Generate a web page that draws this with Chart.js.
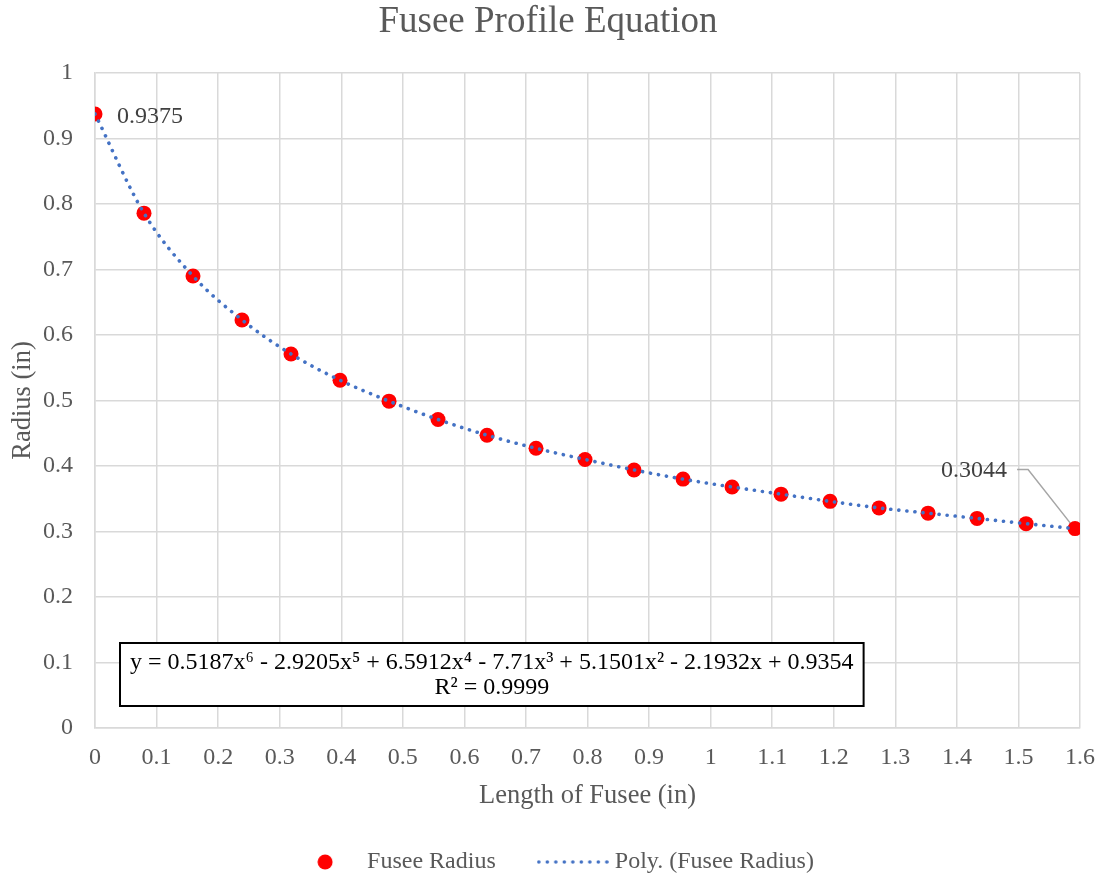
<!DOCTYPE html>
<html>
<head>
<meta charset="utf-8">
<title>Fusee Profile Equation</title>
<script src="https://cdn.jsdelivr.net/npm/chart.js@4.4.0/dist/chart.umd.min.js"></script>
<style>
  html, body { margin: 0; padding: 0; background: #fff; }
  #wrap { width: 1099px; height: 875px; position: relative; }
</style>
</head>
<body>
<div id="wrap"><canvas id="fuseeChart"></canvas></div>
<script>
// values
const lengthIn = [0, 0.0796, 0.1592, 0.2388, 0.3184, 0.398, 0.4776, 0.5572, 0.6368, 0.7164, 0.796,
  0.8756, 0.9552, 1.0348, 1.1144, 1.194, 1.2736, 1.3532, 1.4328, 1.5124, 1.592];
const radiusIn = [0.9375, 0.786, 0.690, 0.623, 0.571, 0.531, 0.499, 0.471, 0.447, 0.427, 0.410,
  0.394, 0.380, 0.368, 0.357, 0.346, 0.336, 0.328, 0.320, 0.312, 0.3044];
const xTickValues = [0, 0.1, 0.2, 0.3, 0.4, 0.5, 0.6, 0.7, 0.8, 0.9, 1, 1.1, 1.2, 1.3, 1.4, 1.5, 1.6];
const yTickValues = [0, 0.1, 0.2, 0.3, 0.4, 0.5, 0.6, 0.7, 0.8, 0.9, 1];
const labelledIdx = [0, 20];
const trendText = ['y = 0.5187x\u2076 - 2.9205x\u2075 + 6.5912x\u2074 - 7.71x\u00b3 + 5.1501x\u00b2 - 2.1932x + 0.9354', 'R\u00b2 = 0.9999'];

const serif = '"Liberation Serif", "Times New Roman", serif';
const points = lengthIn.map((x, i) => ({x: x, y: radiusIn[i]}));

// legend markers
function makeMarker(kind) {
  const c = document.createElement('canvas');
  const g = c.getContext('2d');
  if (kind == 'dot') {
    c.width = 16; c.height = 16;
    g.fillStyle = '#ff0000';
    g.beginPath(); g.arc(8, 8, 7.5, 0, Math.PI * 2); g.fill();
  } else {
    c.width = 72; c.height = 6;
    g.fillStyle = '#4472c4';
    for (let k = 0; k < 9; k++) {
      g.beginPath(); g.arc(2 + k * 8.5, 3, 1.8, 0, Math.PI * 2); g.fill();
    }
  }
  return c;
}
const markers = [makeMarker('dot'), makeMarker('line')];

const extras = {
  id: 'extras',
  afterLayout(chart) {
    // legend sits a little right of centre in the original, title is centred on the page
    chart.legend.left += 14.5;
    chart.legend.right += 14.5;
    chart.titleBlock.left += 8;
    chart.titleBlock.right += 8;
  },
  beforeDatasetsDraw(chart) {
    const ctx = chart.ctx, xs = chart.scales.x, ys = chart.scales.y;
    const n = labelledIdx[1];
    const px = xs.getPixelForValue(lengthIn[n]), py = ys.getPixelForValue(radiusIn[n]);
    ctx.save();
    ctx.strokeStyle = '#a6a6a6';
    ctx.lineWidth = 1.5;
    ctx.beginPath();
    ctx.moveTo(px - 58, py - 59);
    ctx.lineTo(px - 47, py - 59);
    ctx.lineTo(px - 2, py - 2);
    ctx.stroke();
    ctx.restore();
  },
  afterDatasetsDraw(chart) {
    const ctx = chart.ctx, xs = chart.scales.x, ys = chart.scales.y, area = chart.chartArea;
    ctx.save();
    ctx.font = '24px ' + serif;
    ctx.fillStyle = '#404040';
    ctx.textBaseline = 'middle';
    let i = labelledIdx[0];
    let px = xs.getPixelForValue(lengthIn[i]), py = ys.getPixelForValue(radiusIn[i]);
    ctx.textAlign = 'left';
    ctx.fillText(radiusIn[i].toFixed(4), px + 22, py + 3);
    i = labelledIdx[1];
    px = xs.getPixelForValue(lengthIn[i]); py = ys.getPixelForValue(radiusIn[i]);
    ctx.textAlign = 'right';
    ctx.fillText(radiusIn[i].toFixed(4), px - 68, py - 58);

    // trendline equation box
    const w = ctx.measureText(trendText[0]).width + 20;
    const left = area.left + 25, top = area.bottom - 85, h = 63;
    ctx.fillStyle = '#ffffff';
    ctx.fillRect(left, top, w, h);
    ctx.strokeStyle = '#000000';
    ctx.lineWidth = 2;
    ctx.strokeRect(left, top, w, h);
    ctx.fillStyle = '#000000';
    ctx.textAlign = 'center';
    ctx.fillText(trendText[0], left + w / 2, top + 20);
    ctx.fillText(trendText[1], left + w / 2, top + 45);
    ctx.restore();
  }
};

const chart = new Chart(document.getElementById('fuseeChart'), {
  type: 'scatter',
  data: {
    datasets: [
      {
        label: 'Fusee Radius',
        data: points,
        order: 1,
        pointRadius: 7.5,
        pointHoverRadius: 7.5,
        backgroundColor: '#ff0000',
        borderWidth: 0
      },
      {
        label: 'Poly. (Fusee Radius)',
        data: points,
        order: 0,
        showLine: true,
        pointRadius: 0,
        borderColor: '#4472c4',
        borderWidth: 3.6,
        borderDash: [0.1, 8],
        borderCapStyle: 'round',
        cubicInterpolationMode: 'monotone'
      }
    ]
  },
  options: {
    responsive: true,
    maintainAspectRatio: false,
    animation: false,
    layout: { padding: { left: 0, right: 19, top: 0, bottom: -9 } },
    plugins: {
      tooltip: { enabled: false },
      title: {
        display: true,
        text: 'Fusee Profile Equation',
        color: '#595959',
        font: { family: serif, size: 37, weight: 'normal' },
        padding: { top: 0, bottom: 28.6 }
      },
      legend: {
        position: 'bottom',
        labels: {
          usePointStyle: true,
          pointStyleWidth: 60,
          padding: 47,
          color: '#595959',
          font: { family: serif, size: 24 },
          generateLabels(chart) {
            return chart.data.datasets.map((ds, i) => ({
              text: ds.label,
              pointStyle: markers[i],
              datasetIndex: i,
              hidden: false,
              fontColor: '#595959',
              lineWidth: 0
            }));
          }
        }
      }
    },
    scales: {
      x: {
        type: 'linear',
        min: 0,
        max: 1.6,
        afterBuildTicks(scale) { scale.ticks = xTickValues.map(v => ({value: v})); },
        afterFit(scale) { scale.height = 75; scale.paddingRight = 0; },
        grid: { color: '#d9d9d9', lineWidth: 1.5, drawTicks: false },
        border: { color: '#d9d9d9', width: 1.5 },
        ticks: {
          padding: 15,
          color: '#595959',
          font: { family: serif, size: 24 },
          maxRotation: 0,
          callback: v => String(+v.toFixed(1))
        },
        title: {
          display: true,
          text: 'Length of Fusee (in)',
          color: '#595959',
          font: { family: serif, size: 26.5 },
          padding: { top: 0, bottom: -9 }
        }
      },
      y: {
        min: 0,
        max: 1,
        afterBuildTicks(scale) { scale.ticks = yTickValues.map(v => ({value: v})); },
        afterFit(scale) { scale.width = 95; },
        grid: { color: '#d9d9d9', lineWidth: 1.5, drawTicks: false },
        border: { color: '#d9d9d9', width: 1.5 },
        ticks: {
          padding: 22,
          color: '#595959',
          font: { family: serif, size: 24 },
          callback: v => String(+v.toFixed(1))
        },
        title: {
          display: true,
          text: 'Radius (in)',
          color: '#595959',
          font: { family: serif, size: 26.5 },
          padding: { top: 7, bottom: 0 }
        }
      }
    }
  },
  plugins: [extras]
});
</script>
</body>
</html>
